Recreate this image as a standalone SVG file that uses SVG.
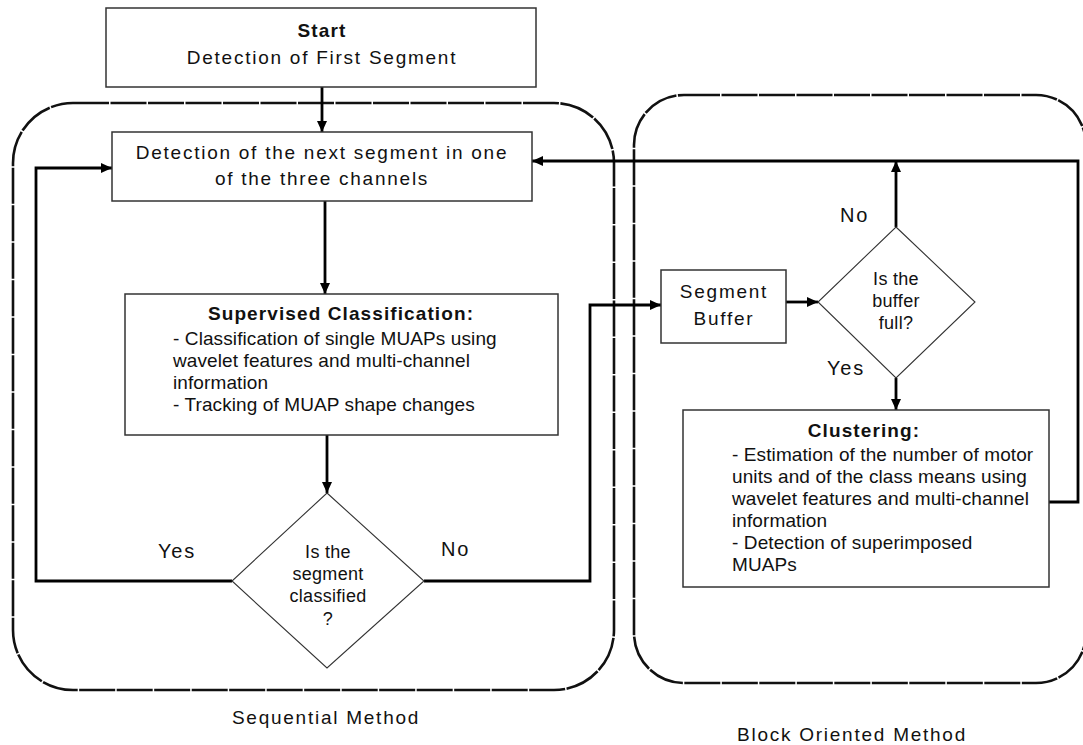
<svg xmlns="http://www.w3.org/2000/svg" width="1083" height="745" viewBox="0 0 1083 745">
  <style>
    .box { fill: #ffffff; stroke: #333333; stroke-width: 1.5; }
    .dia { fill: #ffffff; stroke: #333333; stroke-width: 1.1; }
    .cont { fill: none; stroke: #111111; stroke-width: 2.6; stroke-dasharray: 36 1.5; }
    .conn { fill: none; stroke: #000000; stroke-width: 2.8; }
    .sp { font-family: "Liberation Sans", Arial, sans-serif; font-size: 19px; letter-spacing: 1.75px; fill: #111111; }
    .bt { font-family: "Liberation Sans", Arial, sans-serif; font-size: 19px; font-weight: bold; letter-spacing: 1.1px; fill: #111111; }
    .tx { font-family: "Liberation Sans", Arial, sans-serif; font-size: 19px; letter-spacing: 0.1px; fill: #111111; }
    .dt { font-family: "Liberation Sans", Arial, sans-serif; font-size: 18px; letter-spacing: 0.3px; fill: #111111; }
    .lb { font-family: "Liberation Sans", Arial, sans-serif; font-size: 20px; letter-spacing: 1.8px; fill: #111111; }
    .mid { text-anchor: middle; }
  </style>
  <defs>
    <marker id="ah" markerWidth="11" markerHeight="10" refX="11" refY="5" orient="auto" markerUnits="userSpaceOnUse">
      <path d="M0,0 L11,5 L0,10 z" fill="#000000"/>
    </marker>
  </defs>
  <rect width="1083" height="745" fill="#ffffff"/>

  <g id="containers">
    <rect class="cont" x="13" y="103" width="601" height="587" rx="60" ry="60"/>
    <rect class="cont" x="634" y="95" width="452" height="588" rx="50" ry="50"/>
    <text class="sp mid" x="326" y="724">Sequential Method</text>
    <text class="sp mid" x="852" y="741">Block Oriented Method</text>
  </g>

  <g id="connectors">
    <path class="conn" d="M322,87 V132" marker-end="url(#ah)"/>
    <path class="conn" d="M325,201 V294" marker-end="url(#ah)"/>
    <path class="conn" d="M327,435 V493" marker-end="url(#ah)"/>
    <path class="conn" d="M232,581 H36 V168 H112" marker-end="url(#ah)"/>
    <path class="conn" d="M424,581 H590 V305 H661" marker-end="url(#ah)"/>
    <path class="conn" d="M786,302 H818" marker-end="url(#ah)"/>
    <path class="conn" d="M896,227 V161" marker-end="url(#ah)"/>
    <path class="conn" d="M896,378 V410" marker-end="url(#ah)"/>
    <path class="conn" d="M1049,502 H1078 V161 H532" marker-end="url(#ah)"/>
    <text class="lb" x="158" y="558">Yes</text>
    <text class="lb" x="441" y="556">No</text>
    <text class="lb" x="840" y="222">No</text>
    <text class="lb" x="827" y="375">Yes</text>
  </g>

  <g id="start">
    <rect class="box" x="106" y="8" width="430" height="79"/>
    <text class="bt mid" x="322" y="37">Start</text>
    <text class="sp mid" x="322" y="64">Detection of First Segment</text>
  </g>

  <g id="next-segment">
    <rect class="box" x="112" y="132" width="420" height="69"/>
    <text class="sp mid" x="322" y="159">Detection of the next segment in one</text>
    <text class="sp mid" x="322" y="185">of the three channels</text>
  </g>

  <g id="supervised">
    <rect class="box" x="125" y="294" width="433" height="141"/>
    <text class="bt mid" x="341" y="320">Supervised Classification:</text>
    <text class="tx" x="173" y="345">- Classification of single MUAPs using</text>
    <text class="tx" x="173" y="367">wavelet features and multi-channel</text>
    <text class="tx" x="173" y="389">information</text>
    <text class="tx" x="173" y="411">- Tracking of MUAP shape changes</text>
  </g>

  <g id="classified-decision">
    <polygon class="dia" points="327,493 424,581 327,668 232,581"/>
    <text class="dt mid" x="328" y="558">Is the</text>
    <text class="dt mid" x="328" y="580">segment</text>
    <text class="dt mid" x="328" y="602">classified</text>
    <text class="dt mid" x="328" y="625">?</text>
  </g>

  <g id="segment-buffer">
    <rect class="box" x="661" y="270" width="125" height="73"/>
    <text class="sp mid" x="724" y="298">Segment</text>
    <text class="sp mid" x="724" y="325">Buffer</text>
  </g>

  <g id="buffer-decision">
    <polygon class="dia" points="896,227 975,302 896,378 818,302"/>
    <text class="dt mid" x="896" y="285">Is the</text>
    <text class="dt mid" x="896" y="307">buffer</text>
    <text class="dt mid" x="896" y="329">full?</text>
  </g>

  <g id="clustering">
    <rect class="box" x="683" y="410" width="366" height="177"/>
    <text class="bt mid" x="864" y="437">Clustering:</text>
    <text class="tx" x="732" y="461">- Estimation of the number of motor</text>
    <text class="tx" x="732" y="483">units and of the class means using</text>
    <text class="tx" x="732" y="505">wavelet features and multi-channel</text>
    <text class="tx" x="732" y="527">information</text>
    <text class="tx" x="732" y="549">- Detection of superimposed</text>
    <text class="tx" x="732" y="571">MUAPs</text>
  </g>
</svg>
